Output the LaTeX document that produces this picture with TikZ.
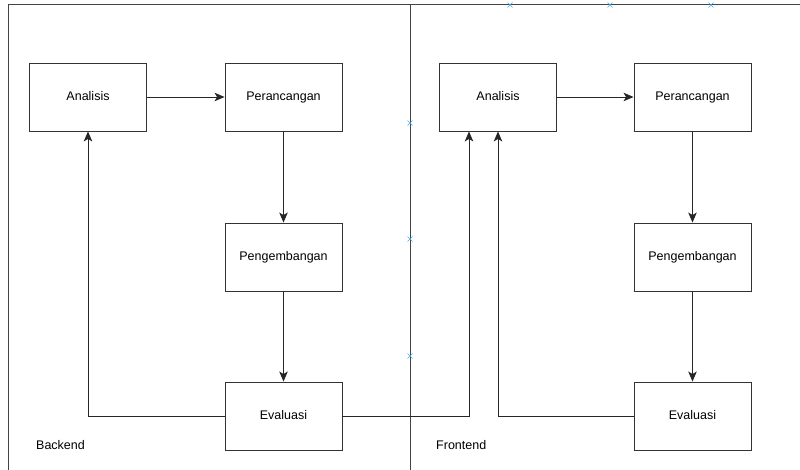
\documentclass[tikz,border=0pt]{standalone}
\usepackage{fontspec}
\setmainfont{Liberation Sans}
\usepackage{tikz}
\usetikzlibrary{arrows.meta}

\definecolor{framegray}{HTML}{444444}
\definecolor{markblue}{HTML}{4AA8E8}

\tikzset{
	phase/.style={draw=black!80, line width=0.9pt, minimum width=117pt, minimum height=68pt, font=\fontsize{12.5}{15}\selectfont, text height=9pt, text depth=2.5pt, inner sep=0pt},
	flow/.style={draw=black!85, line width=0.9pt, -{Stealth[length=10pt,width=8.5pt,inset=2.5pt]}},
	frame/.style={draw=framegray, line width=1pt},
	selmark/.style={draw=markblue, line width=0.6pt}
}

\begin{document}
\begin{tikzpicture}[x=1pt, y=-1pt]
	\useasboundingbox (0,0) rectangle (800,470);
	
	%frame
	\draw[frame] (8,470)--(8,5)--(800,5);
	\draw[frame] (410,5)--(410,470);
	
	%selection marks
	\foreach \mx/\my in {510/5, 610/5, 711/5, 410/123, 410/239, 410/356}
		\draw[selmark] (\mx-2.5,\my-2.5)--(\mx+2.5,\my+2.5) (\mx-2.5,\my+2.5)--(\mx+2.5,\my-2.5);
	
	%backend boxes
	\node[phase] (anaB) at (88,97)    {Analisis};
	\node[phase] (ranB) at (283.5,97) {Perancangan};
	\node[phase] (bngB) at (283.5,257) {Pengembangan};
	\node[phase] (evaB) at (283.5,416) {Evaluasi};
	
	%frontend boxes
	\node[phase] (anaF) at (498,97)    {Analisis};
	\node[phase] (ranF) at (692.5,97)  {Perancangan};
	\node[phase] (bngF) at (692.5,257) {Pengembangan};
	\node[phase] (evaF) at (692.5,416) {Evaluasi};
	
	%arrows
	\draw[flow] (anaB)--(ranB);
	\draw[flow] (ranB)--(bngB);
	\draw[flow] (bngB)--(evaB);
	\draw[flow] (evaB.west) -| (anaB.south);
	\draw[flow] (evaB.east) -| ([xshift=-29pt]anaF.south);
	%
	\draw[flow] (anaF)--(ranF);
	\draw[flow] (ranF)--(bngF);
	\draw[flow] (bngF)--(evaF);
	\draw[flow] (evaF.west) -| (anaF.south);
	
	%section labels
	\node[anchor=west, inner sep=0pt, font=\fontsize{12.5}{15}\selectfont] (back) at (36,445)  {Backend};
	\node[anchor=west, inner sep=0pt, font=\fontsize{12.5}{15}\selectfont] (front) at (436,445) {Frontend};
\end{tikzpicture}
\end{document}
